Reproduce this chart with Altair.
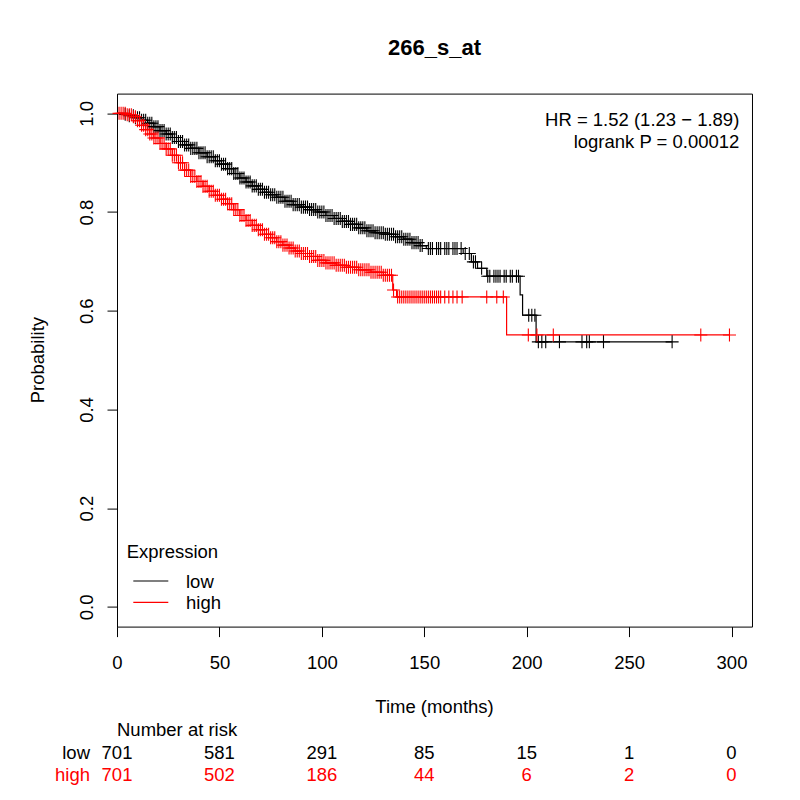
import altair as alt
import pandas as pd

# Kaplan-Meier step points (time in months, survival probability)
low_t = [0, 3, 6, 9, 12, 15, 18, 21, 24, 27, 30, 33, 36, 40, 44, 48, 51, 54, 57, 60,
         63, 66, 69, 72, 75, 78, 82, 86, 90, 94, 98, 102, 106, 110, 114, 118, 122, 126,
         131, 136, 140, 144, 148, 151, 169, 173, 176, 180.5, 196.8, 198, 204.6]
low_s = [1.0, 0.998, 0.995, 0.991, 0.986, 0.980, 0.973, 0.965, 0.958, 0.951, 0.943,
         0.936, 0.929, 0.920, 0.912, 0.904, 0.897, 0.888, 0.878, 0.869, 0.861, 0.853,
         0.846, 0.840, 0.835, 0.830, 0.822, 0.815, 0.810, 0.805, 0.800, 0.793, 0.787,
         0.781, 0.775, 0.768, 0.762, 0.758, 0.755, 0.750, 0.745, 0.738, 0.732, 0.726,
         0.716, 0.699, 0.686, 0.670, 0.632, 0.591, 0.537]
low_end = 271

high_t = [0, 5, 8, 10, 12, 14, 16, 18, 21, 24, 27, 30, 33, 36, 39, 42, 45, 48, 51, 54,
          57, 60, 63, 66, 69, 72, 75, 78, 81, 84, 87, 90, 94, 98, 102, 107, 112, 118,
          124, 130, 134.6, 136.5, 190.2]
high_s = [1.0, 0.997, 0.993, 0.985, 0.976, 0.967, 0.958, 0.950, 0.939, 0.928, 0.915,
          0.900, 0.885, 0.872, 0.862, 0.852, 0.842, 0.834, 0.826, 0.817, 0.805, 0.793,
          0.783, 0.773, 0.764, 0.755, 0.748, 0.740, 0.733, 0.727, 0.721, 0.716, 0.710,
          0.702, 0.697, 0.692, 0.688, 0.683, 0.678, 0.672, 0.642, 0.628, 0.551]
high_end = 299

# censoring times
low_cens = [4, 6, 8, 9, 10, 11, 12, 13, 14, 15, 16, 17, 18, 19, 20, 21, 22, 23, 24, 25,
            26, 27, 28, 29, 30, 31, 32, 33, 34, 35, 36, 37, 38, 39, 40, 41, 42, 43, 44,
            45, 46, 47, 48, 49, 50, 51, 52, 53, 54, 55, 56, 57, 58, 59, 60, 61, 62, 63,
            64, 65, 66, 67, 68, 69, 70, 71, 72, 73, 74, 75, 76, 77, 78, 79, 80, 81, 82,
            83, 84, 85, 86, 87, 88, 89, 90, 91, 92, 93, 94, 95, 96, 97, 98, 99, 100,
            101, 102, 103, 104, 105, 106, 107, 108, 109, 110, 111, 112, 113, 114, 115,
            116, 117, 118, 119, 120, 121, 122, 123, 124, 125, 126, 127, 128, 129, 130,
            131, 132, 133, 134, 135, 136, 137, 138, 139, 140, 141, 142, 143, 144, 145,
            146, 147, 148, 149, 152, 153, 154, 156, 157, 158, 160, 161, 162, 164, 165,
            166, 168, 170, 172, 174, 175, 178, 181, 182, 184, 185, 186, 187, 189, 190,
            192, 193, 195, 196, 201, 202.5, 204, 205.7, 207.4, 209.3, 216, 227, 229.3,
            230.6, 237.5, 271]
high_cens = [1, 2, 3, 4, 5, 6, 7, 8, 9, 10, 11, 12, 13, 14, 15, 16, 17, 18, 19, 20, 21,
             22, 23, 24, 25, 26, 27, 28, 29, 30, 31, 32, 33, 34, 35, 36, 37, 38, 39, 40,
             41, 42, 43, 44, 45, 46, 47, 48, 49, 50, 51, 52, 53, 54, 55, 56, 57, 58, 59,
             60, 61, 62, 63, 64, 65, 66, 67, 68, 69, 70, 71, 72, 73, 74, 75, 76, 77, 78,
             79, 80, 81, 82, 83, 84, 85, 86, 87, 88, 89, 90, 91, 92, 93, 94, 95, 96, 97,
             98, 99, 100, 101, 102, 103, 104, 105, 106, 107, 108, 109, 110, 111, 112,
             113, 114, 115, 116, 117, 118, 119, 120, 121, 122, 123, 124, 125, 126, 127,
             128, 129, 130, 131, 132, 133, 134, 135, 137, 138, 139, 140, 141, 142, 143,
             144, 145, 146, 147, 148, 149, 150, 151, 152, 153, 154, 155, 156, 157, 158,
             160, 162, 164, 166, 168.5, 180.5, 185.4, 188.6, 200.8, 205, 213, 285, 299]

groups = ["low", "high"]
colors = ["black", "red"]
risk_times = [0, 50, 100, 150, 200, 250, 300]
risk_low = [701, 581, 291, 85, 15, 1, 0]
risk_high = [701, 502, 186, 44, 6, 2, 0]

W, H = 635, 533
FONT = "Liberation Sans"


def surv_at(ts, ss, c):
    v = ss[0]
    for t, s in zip(ts, ss):
        if t <= c:
            v = s
    return v


curve_rows = []
cens_rows = []
for g, ts, ss, end, cens in [("low", low_t, low_s, low_end, low_cens),
                             ("high", high_t, high_s, high_end, high_cens)]:
    for t, s in zip(ts, ss):
        curve_rows.append({"group": g, "time": t, "surv": s})
    curve_rows.append({"group": g, "time": end, "surv": ss[-1]})
    for c in cens:
        cens_rows.append({"group": g, "time": c, "surv": surv_at(ts, ss, c)})
curves = pd.DataFrame(curve_rows)
censors = pd.DataFrame(cens_rows)

xscale = alt.Scale(domain=[0, 310], nice=False, zero=False)
yscale = alt.Scale(domain=[-0.04, 1.04], nice=False, zero=False)
cscale = alt.Scale(domain=groups, range=colors)

x_enc = alt.X("time:Q", scale=xscale,
              axis=alt.Axis(values=risk_times, title=None, labelPadding=17,
                            labelFlush=False))
y_enc = alt.Y("surv:Q", scale=yscale,
              axis=alt.Axis(values=[0, 0.2, 0.4, 0.6, 0.8, 1.0], format=".1f",
                            title=None, labelAngle=270, labelAlign="center",
                            labelBaseline="bottom", labelPadding=11,
                            labelFlush=False))

lines = alt.Chart(curves).mark_line(interpolate="step-after", strokeWidth=1.2).encode(
    x=x_enc, y=y_enc,
    color=alt.Color("group:N", scale=cscale, legend=None),
    detail="group:N",
)

ticks = alt.Chart(censors).mark_point(
    shape="M0,-1L0,1M-1,0L1,0", filled=False, size=170, strokeWidth=1.1, opacity=1
).encode(
    x="time:Q", y="surv:Q",
    color=alt.Color("group:N", scale=cscale, legend=None),
)

# number at risk table
risk = pd.DataFrame(
    [{"time": t, "n": str(n), "group": "low"} for t, n in zip(risk_times, risk_low)]
    + [{"time": t, "n": str(n), "group": "high"} for t, n in zip(risk_times, risk_high)]
)
risk_low_txt = alt.Chart(risk[risk.group == "low"]).mark_text(
    font=FONT, fontSize=18.5, align="center", baseline="middle").encode(
    x="time:Q", y=alt.value(659.7), text="n:N",
    color=alt.Color("group:N", scale=cscale, legend=None))
risk_high_txt = alt.Chart(risk[risk.group == "high"]).mark_text(
    font=FONT, fontSize=18.5, align="center", baseline="middle").encode(
    x="time:Q", y=alt.value(681.4), text="n:N",
    color=alt.Color("group:N", scale=cscale, legend=None))


def label(txt, x, y, align="left", size=18.5, color="black", weight="normal", angle=0):
    return alt.Chart(pd.DataFrame({"t": [txt]})).mark_text(
        font=FONT, fontSize=size, align=align, baseline="middle", color=color,
        fontWeight=weight, angle=angle).encode(
        text="t:N", x=alt.value(x), y=alt.value(y))


texts = [
    label("266_s_at", W / 2, -45.6, align="center", size=22, weight="bold"),
    label("HR = 1.52 (1.23 \u2212 1.89)", 622.3, 26.4, align="right"),
    label("logrank P = 0.00012", 622.3, 48.1, align="right"),
    label("Time (months)", W / 2, 613.4, align="center"),
    label("Probability", -79, H / 2, align="center", angle=270),
    label("Number at risk", 0, 636.4),
    label("low", -27, 659.7, align="right"),
    label("high", -27, 681.4, align="right", color="red"),
    label("Expression", 9.7, 458),
    label("low", 69, 488),
    label("high", 69, 509),
]

legend_lines = [
    alt.Chart(pd.DataFrame({"g": [g]})).mark_rule(strokeWidth=1.2, color=c).encode(
        x=alt.value(16.3), x2=alt.value(51.3), y=alt.value(yy))
    for g, c, yy in [("low", "black", 487.4), ("high", "red", 508.7)]
]

chart = alt.layer(
    lines, ticks, risk_low_txt, risk_high_txt, *legend_lines, *texts
).properties(
    width=W, height=H,
    autosize=alt.AutoSizeParams(type="none"),
    padding={"left": 109, "top": 85.6, "right": 40, "bottom": 165},
).configure_view(
    stroke="black", strokeWidth=1
).configure_axis(
    grid=False, domain=False, tickColor="black", tickSize=10, tickWidth=1,
    labelFont=FONT, labelFontSize=18.5, labelColor="black",
)

chart.save("out.html", embed_options={"renderer": "svg", "actions": False})
